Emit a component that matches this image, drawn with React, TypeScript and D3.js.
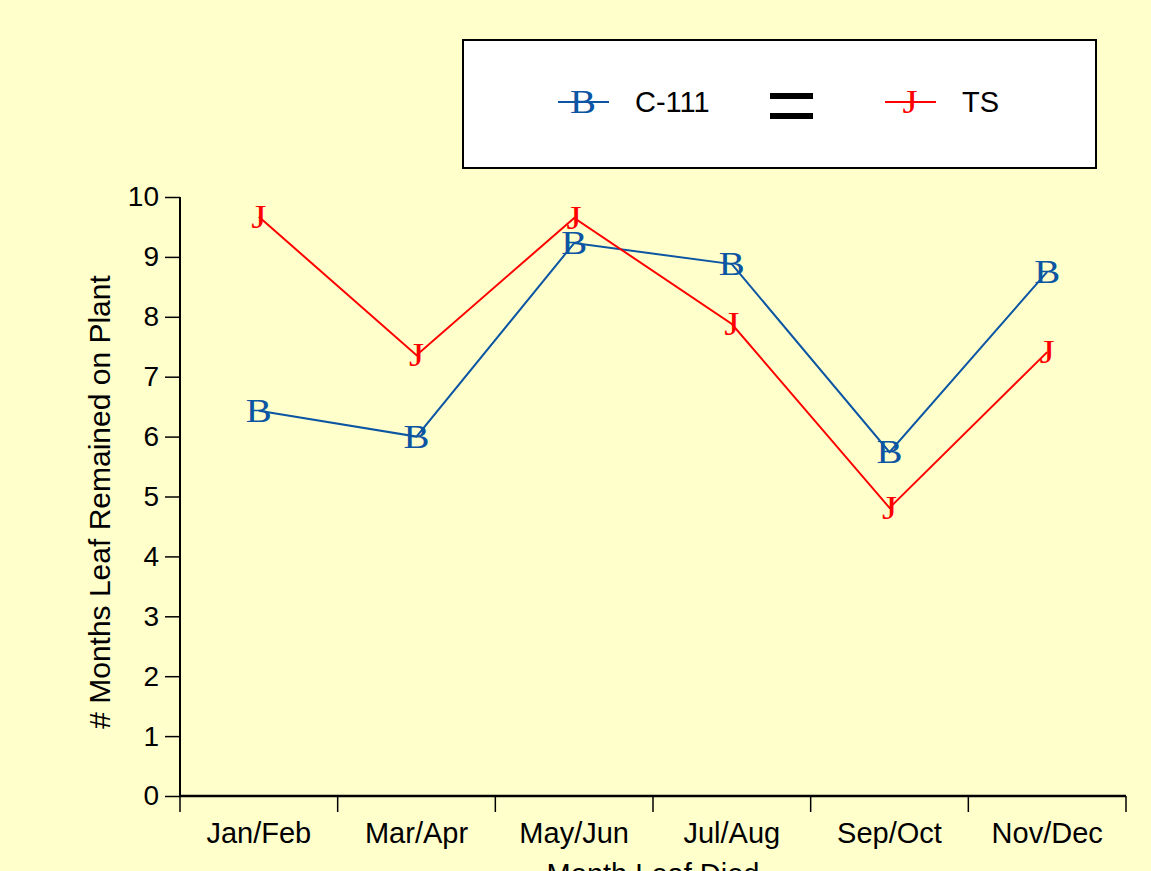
import React, { useEffect, useRef } from "react";
import * as d3 from "d3";

const categories = ["Jan/Feb", "Mar/Apr", "May/Jun", "Jul/Aug", "Sep/Oct", "Nov/Dec"];
const c111Values = [6.43, 6.0, 9.23, 8.88, 5.74, 8.75];
const tsValues = [9.67, 7.36, 9.65, 7.88, 4.81, 7.41];
const yTicks = [0, 1, 2, 3, 4, 5, 6, 7, 8, 9, 10];
const seriesNames = ["C-111", "TS"];
const seriesMarkers = ["B", "J"];
const seriesColors = ["#0B55A3", "#FF0000"];
const xTitle = "Month Leaf Died";
const yTitle = "# Months Leaf Remained on Plant";

const W = 1151;
const H = 871;

export default function App() {
  const ref = useRef<SVGSVGElement | null>(null);

  useEffect(() => {
    const svg = d3.select(ref.current);
    svg.selectAll("*").remove();

    svg.append("rect").attr("width", W).attr("height", H).attr("fill", "#FFFFCC");

    const x = d3.scaleBand<string>().domain(categories).range([180, 1126]).padding(0);
    const y = d3.scaleLinear().domain([0, 10]).range([796, 197]);
    const sans = "'Liberation Sans', Arial, sans-serif";
    const serif = "'Liberation Serif', 'Times New Roman', serif";

    // Y axis
    const yAxis = d3.axisLeft(y).tickValues(yTicks).tickSize(15).tickPadding(6).tickFormat(d3.format("d"));
    const gy = svg.append("g").attr("transform", "translate(180,0)").call(yAxis as any);
    gy.select(".domain").attr("stroke", "#000").attr("stroke-width", 2).attr("d", `M0,${y(10)}V${y(0)}`);
    gy.selectAll(".tick line").attr("stroke", "#000").attr("stroke-width", 1.5);
    gy.selectAll(".tick text").attr("font-family", sans).attr("font-size", 28).attr("fill", "#000");

    // X axis
    const xAxis = d3.axisBottom(x).tickSize(0).tickPadding(0);
    const gx = svg.append("g").attr("transform", "translate(0,796)").call(xAxis as any);
    gx.select(".domain").attr("stroke", "#000").attr("stroke-width", 2.5).attr("d", `M180,0H1126`);
    gx.selectAll(".tick text")
      .attr("font-family", sans)
      .attr("font-size", 29)
      .attr("fill", "#000")
      .attr("dy", 0)
      .attr("y", 47);
    const bounds = [...categories.map((c) => x(c) as number), 1126];
    gx.selectAll(".bt")
      .data(bounds)
      .enter()
      .append("line")
      .attr("x1", (d) => d)
      .attr("x2", (d) => d)
      .attr("y1", 0)
      .attr("y2", 16)
      .attr("stroke", "#000")
      .attr("stroke-width", 1.5);

    // Titles
    svg
      .append("text")
      .attr("transform", `translate(110,502) rotate(-90)`)
      .attr("text-anchor", "middle")
      .attr("font-family", sans)
      .attr("font-size", 30)
      .text(yTitle);
    svg
      .append("text")
      .attr("x", 653)
      .attr("y", 884)
      .attr("text-anchor", "middle")
      .attr("font-family", sans)
      .attr("font-size", 29)
      .text(xTitle);

    // Series
    const cx = (c: string) => (x(c) as number) + x.bandwidth() / 2;
    const line = d3
      .line<number>()
      .x((_, i) => cx(categories[i]))
      .y((d) => y(d));
    const allSeries = [c111Values, tsValues];
    allSeries.forEach((vals, si) => {
      svg
        .append("path")
        .attr("d", line(vals) as string)
        .attr("fill", "none")
        .attr("stroke", seriesColors[si])
        .attr("stroke-width", 2);
      svg
        .append("g")
        .selectAll("text")
        .data(vals)
        .enter()
        .append("text")
        .attr("transform", (d, i) => `translate(${cx(categories[i])},${y(d) + 11}) scale(1.18,1)`)
        .attr("text-anchor", "middle")
        .attr("font-family", serif)
        .attr("font-size", 33)
        .attr("fill", seriesColors[si])
        .text(seriesMarkers[si]);
    });

    // Legend
    const lg = svg.append("g");
    lg.append("rect")
      .attr("x", 463)
      .attr("y", 40)
      .attr("width", 633)
      .attr("height", 128)
      .attr("fill", "#fff")
      .attr("stroke", "#000")
      .attr("stroke-width", 2);
    const legendX = [558, 885];
    seriesNames.forEach((name, si) => {
      const lx = legendX[si];
      lg.append("line")
        .attr("x1", lx)
        .attr("x2", lx + 51)
        .attr("y1", 102)
        .attr("y2", 102)
        .attr("stroke", seriesColors[si])
        .attr("stroke-width", 2);
      lg.append("text")
        .attr("transform", `translate(${lx + 25},113) scale(1.18,1)`)
        .attr("text-anchor", "middle")
        .attr("font-family", serif)
        .attr("font-size", 33)
        .attr("fill", seriesColors[si])
        .text(seriesMarkers[si]);
      lg.append("text")
        .attr("x", lx + 77)
        .attr("y", 112)
        .attr("font-family", sans)
        .attr("font-size", 29)
        .attr("fill", "#000")
        .text(name);
    });
    lg.append("rect").attr("x", 770).attr("y", 93).attr("width", 43).attr("height", 6).attr("fill", "#000");
    lg.append("rect").attr("x", 770).attr("y", 113).attr("width", 43).attr("height", 6).attr("fill", "#000");
  }, []);

  return (
    <svg
      ref={ref}
      width={W}
      height={H}
      style={{ position: "absolute", left: 0, top: 0, display: "block" }}
    />
  );
}
